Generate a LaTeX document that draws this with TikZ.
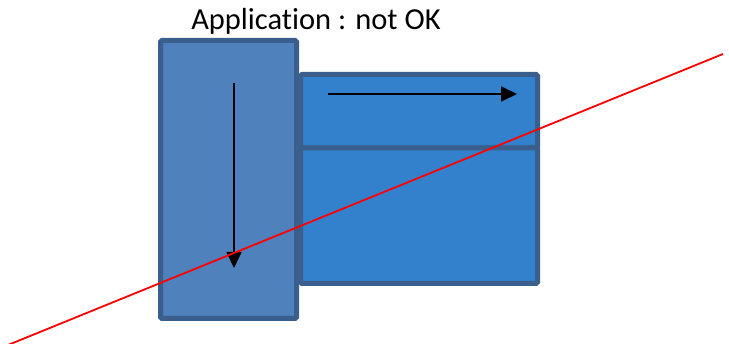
\documentclass[tikz,border=0pt]{standalone}
\usepackage{fontspec}
\setmainfont{Carlito}[RawFeature={-liga}]
\usetikzlibrary{arrows.meta}
\definecolor{edgeblue}{HTML}{3A5F8C}
\definecolor{leftfill}{HTML}{4F81BD}
\definecolor{rightfill}{HTML}{3381CC}
\tikzset{
  panel/.style={draw=edgeblue, line width=5pt, rounded corners=1.5pt},
  flow/.style={line width=1.8pt, -{Triangle[length=16pt,width=15pt]}},
  cut/.style={draw=red, line width=1.8pt},
  title/.style={font=\fontsize{30.5}{36}\selectfont, anchor=base, inner sep=0pt}
}
\begin{document}
\begin{tikzpicture}[x=1pt,y=-1pt]
\useasboundingbox (0,0) rectangle (729,344);
% right boxes
\path[panel, fill=rightfill] (300.5,74.5) rectangle (537.5,148) coordinate (topbox);
\path[panel, fill=rightfill] (300.5,148) rectangle (537.5,283.5) coordinate (botbox);
% left box
\path[panel, fill=leftfill] (160.5,40.5) rectangle (296.5,318.5);
% arrows
\coordinate (v1) at (234,83);
\coordinate (v2) at (234,268);
\coordinate (h1) at (328,94);
\coordinate (h2) at (517,94);
\draw[flow] (v1) -- (v2);
\draw[flow] (h1) -- (h2);
% red line
\coordinate (c1) at (8,345);
\coordinate (c2) at (723,54);
\draw[cut] (c1) -- (c2);
% title
\node[title] (t) at (316,29.5) {Application : not OK};
\end{tikzpicture}
\end{document}
